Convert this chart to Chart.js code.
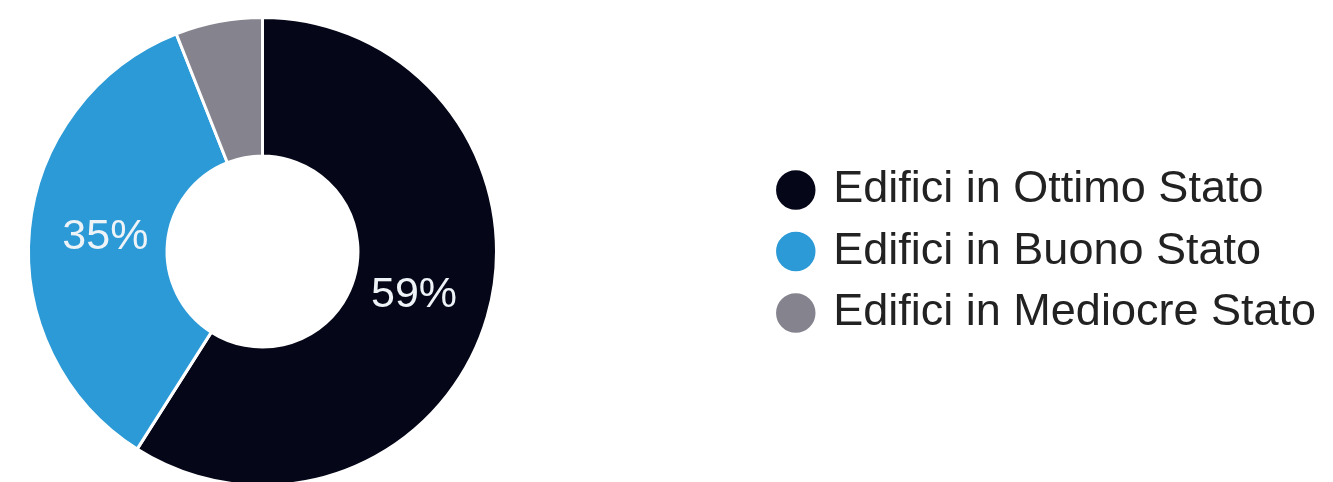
<!DOCTYPE html>
<html>
<head>
<meta charset="utf-8">
<script src="https://cdn.jsdelivr.net/npm/chart.js@4/dist/chart.umd.min.js"></script>
<style>
  html, body { margin: 0; padding: 0; background: #ffffff; overflow: hidden; }
  #wrap { position: relative; width: 1333px; height: 482px; }
</style>
</head>
<body>
<div id="wrap"><canvas id="c"></canvas></div>
<script>
const categories = ['Edifici in Ottimo Stato', 'Edifici in Buono Stato', 'Edifici in Mediocre Stato'];
const values = [59, 35, 6];
const valueLabels = ['59%', '35%', ''];
const colors = ['#050718', '#2b9ad6', '#85848e'];

// keep the doughnut centred on the left part of the canvas (as in the reference)
const donutCenterX = 262.5;
const centerDonut = {
  id: 'centerDonut',
  afterLayout(chart) {
    const ca = chart.chartArea;
    ca.left = 2 * donutCenterX - ca.right;
    ca.width = ca.right - ca.left;
  }
};

const sliceLabels = {
  id: 'sliceLabels',
  afterDatasetsDraw(chart) {
    const ctx = chart.ctx;
    const meta = chart.getDatasetMeta(0);
    ctx.save();
    ctx.font = '43px "Liberation Sans", Arial, sans-serif';
    ctx.fillStyle = '#eef3f8';
    ctx.textAlign = 'center';
    ctx.textBaseline = 'middle';
    meta.data.forEach((arc, i) => {
      const txt = valueLabels[i];
      if (!txt) return;
      const p = arc.getProps(['x', 'y', 'startAngle', 'endAngle', 'innerRadius', 'outerRadius'], true);
      const mid = (p.startAngle + p.endAngle) / 2;
      const r = p.innerRadius + (p.outerRadius - p.innerRadius) * 0.45;
      ctx.fillText(txt, p.x + Math.cos(mid) * r, p.y + Math.sin(mid) * r);
    });
    ctx.restore();
  }
};

new Chart(document.getElementById('c'), {
  type: 'doughnut',
  data: {
    labels: categories,
    datasets: [{
      data: values,
      backgroundColor: colors,
      borderColor: '#ffffff',
      borderWidth: 3,
      hoverOffset: 0
    }]
  },
  options: {
    responsive: true,
    maintainAspectRatio: false,
    animation: false,
    events: [],
    radius: 234,
    cutout: '40.8%',
    layout: { padding: { left: 0, right: 7, top: 21, bottom: 0 } },
    plugins: {
      tooltip: { enabled: false },
      legend: {
        position: 'right',
        align: 'center',
        labels: {
          usePointStyle: true,
          pointStyle: 'circle',
          boxWidth: 30,
          boxHeight: 30,
          padding: 16.5,
          color: '#222222',
          font: { family: '"Liberation Sans", Arial, sans-serif', size: 45 }
        }
      }
    }
  },
  plugins: [centerDonut, sliceLabels]
});
</script>
</body>
</html>
